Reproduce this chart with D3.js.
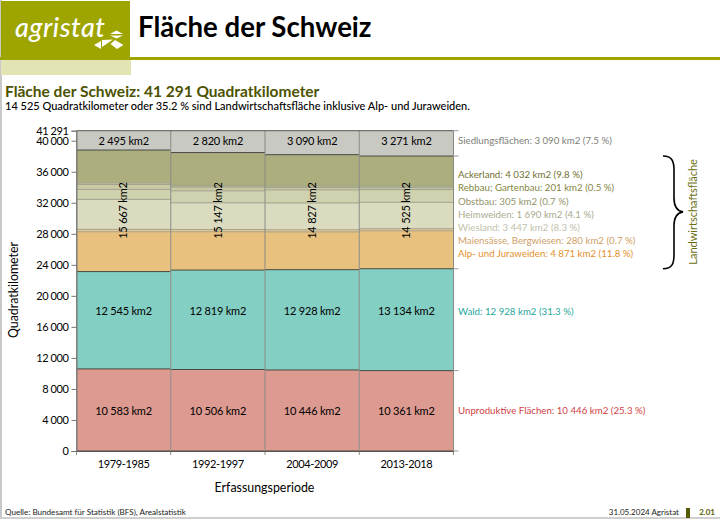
<!DOCTYPE html>
<html lang="de">
<head>
<meta charset="utf-8">
<title>Fläche der Schweiz</title>
<script src="https://cdn.jsdelivr.net/npm/d3@7"></script>
<style>
  html, body { margin: 0; padding: 0; background: #fff; }
  svg { display: block; }
  text { font-family: Lato, "Open Sans", sans-serif; }
</style>
</head>
<body>
<svg id="chart" width="720" height="519"></svg>
<script>
const periods = ['1979-1985', '1992-1997', '2004-2009', '2013-2018'];

const categories = ['unproduktiv', 'wald', 'alp', 'maiensaesse', 'wiesland', 'heimweiden', 'obstbau', 'rebbau', 'ackerland', 'siedlung'];

const unproduktiv = [10583, 10506, 10446, 10361];
const wald = [12545, 12819, 12928, 13134];
const alp = [5140, 4940, 4871, 4895];
const maiensaesse = [300, 290, 280, 270];
const wiesland = [3867, 3440, 3447, 3400];
const heimweiden = [1290, 1550, 1690, 1640];
const obstbau = [640, 470, 305, 250];
const rebbau = [220, 200, 201, 200];
const ackerland = [4210, 4257, 4032, 3870];
const siedlung = [2495, 2820, 3090, 3271];
const landwirtschaft = [15667, 15147, 14827, 14525];

const seriesColors = ['#dc9a90', '#84cfc3', '#e8c17f', '#eac88f', '#dadbbf', '#d0d1ae', '#c9caa5', '#bfc095', '#adae7e', '#c8c9c2'];

const legendLabels = [
  'Siedlungsflächen: 3 090 km2 (7.5 %)',
  'Ackerland: 4 032 km2 (9.8 %)',
  'Rebbau; Gartenbau: 201 km2 (0.5 %)',
  'Obstbau: 305 km2 (0.7 %)',
  'Heimweiden: 1 690 km2 (4.1 %)',
  'Wiesland: 3 447 km2 (8.3 %)',
  'Maiensässe, Bergwiesen: 280 km2 (0.7 %)',
  'Alp- und Juraweiden: 4 871 km2 (11.8 %)',
  'Wald: 12 928 km2 (31.3 %)',
  'Unproduktive Flächen: 10 446 km2 (25.3 %)'
];
const legendColors = ['#7d7e78', '#6f7030', '#85863f', '#93946a', '#a9aa8c', '#c0c1aa', '#d0a066', '#e3902a', '#1fa89a', '#cf3f3f'];
const legendY = [141, 174.5, 188, 201.3, 214.5, 227.5, 240.7, 254, 312, 411];

const yTicks = [0, 4000, 8000, 12000, 16000, 20000, 24000, 28000, 32000, 36000, 40000, 41291];
const total = 41291;

const svg = d3.select('#chart');
const numFmt = d3.formatLocale({ decimal: '.', thousands: ' ', grouping: [3], currency: ['', ''] }).format(',');

// page frame
svg.append('rect').attr('width', 720).attr('height', 519).attr('fill', '#fff');
svg.append('rect').attr('x', 0).attr('y', 0).attr('width', 2).attr('height', 519).attr('fill', '#c8c8c8');
svg.append('rect').attr('x', 0).attr('y', 517).attr('width', 720).attr('height', 2).attr('fill', '#d0d0d0');

// header
svg.append('rect').attr('x', 0).attr('y', 57).attr('width', 720).attr('height', 3).attr('fill', '#9ea400');
svg.append('rect').attr('x', 1).attr('y', 1).attr('width', 129).attr('height', 59).attr('fill', '#9ea400');
svg.append('rect').attr('x', 1).attr('y', 60).attr('width', 130).attr('height', 15).attr('fill', '#e2e5b3');
svg.append('text').attr('x', 15).attr('y', 37).attr('fill', '#fff')
  .attr('font-size', 27).attr('font-style', 'italic').attr('font-weight', 500).attr('letter-spacing', 0.5).text('agristat');

const logo = svg.append('g').attr('fill', '#fff');
['M110,34 L123,34 L116.5,30.5Z', 'M110,35.5 L123,35.5 L116.5,38.5Z', 'M94,45 L101,41 L101,49Z',
  'M102,40 L113,39.5 L105,45 L102,47Z', 'M115,40 L123.5,45 L117,49 L110.5,44Z'].forEach(d => {
  logo.append('path').attr('d', d);
});

svg.append('text').attr('x', 138).attr('y', 37).attr('font-size', 27.6).attr('font-weight', 700)
  .attr('fill', '#000').text('Fläche der Schweiz');
svg.append('text').attr('x', 5).attr('y', 97).attr('font-size', 15.5).attr('font-weight', 700)
  .attr('fill', '#4d5200').text('Fläche der Schweiz: 41 291 Quadratkilometer');
svg.append('text').attr('x', 5).attr('y', 110).attr('font-size', 11).attr('font-weight', 500)
  .attr('fill', '#000').text('14 525 Quadratkilometer oder 35.2 % sind Landwirtschaftsfläche inklusive Alp- und Juraweiden.');

// scales
const x = d3.scaleBand().domain(periods).range([76.5, 453.5]).padding(0);
const y = d3.scaleLinear().domain([0, total]).range([451, 130.7]);

const seriesValues = { unproduktiv, wald, alp, maiensaesse, wiesland, heimweiden, obstbau, rebbau, ackerland, siedlung };
const table = periods.map((p, i) => {
  const row = { period: p };
  categories.forEach(c => { row[c] = seriesValues[c][i]; });
  return row;
});
const stacked = d3.stack().keys(categories)(table);

// bands
const bands = svg.append('g');
stacked.forEach((s, si) => {
  bands.selectAll(null).data(s).join('rect')
    .attr('x', d => x(d.data.period))
    .attr('width', x.bandwidth())
    .attr('y', d => y(d[1]))
    .attr('height', d => y(d[0]) - y(d[1]))
    .attr('fill', seriesColors[si]);
});

// separator lines between the bands, dark between the main groups
stacked.forEach((s, si) => {
  const dark = ['unproduktiv', 'wald', 'alp', 'siedlung'].includes(categories[si]);
  bands.selectAll(null).data(s).join('line')
    .attr('x1', d => x(d.data.period))
    .attr('x2', d => x(d.data.period) + x.bandwidth())
    .attr('y1', d => y(d[0]))
    .attr('y2', d => y(d[0]))
    .attr('stroke', dark ? '#44483f' : '#9a9b88')
    .attr('stroke-width', dark ? 1 : 0.9);
});

// vertical dividers
svg.append('g').selectAll('line').data(periods.concat(['end'])).join('line')
  .attr('x1', d => d === 'end' ? x.range()[1] : x(d))
  .attr('x2', d => d === 'end' ? x.range()[1] : x(d))
  .attr('y1', y(total)).attr('y2', y(0) + 4)
  .attr('stroke', '#8a8a85').attr('stroke-width', 1);
svg.append('line').attr('x1', x.range()[0]).attr('x2', x.range()[1])
  .attr('y1', y(total)).attr('y2', y(total)).attr('stroke', '#55584f');

// axes
const yAxis = svg.append('g').attr('transform', `translate(${x.range()[0]},0)`)
  .call(d3.axisLeft(y).tickValues(yTicks).tickFormat(numFmt).tickSize(5).tickPadding(3));
yAxis.select('.domain').attr('stroke', '#777');
yAxis.selectAll('.tick line').attr('stroke', '#777');
yAxis.selectAll('text').attr('font-size', 11).attr('letter-spacing', -0.4).attr('fill', '#000')
  .style('font-family', 'Lato, sans-serif');

const xAxis = svg.append('g').attr('transform', `translate(0,${y(0)})`)
  .call(d3.axisBottom(x).tickSize(0).tickPadding(9));
xAxis.select('.domain').attr('stroke', '#555');
xAxis.selectAll('text').attr('font-size', 11).attr('letter-spacing', -0.4).attr('fill', '#000')
  .style('font-family', 'Lato, sans-serif');

// right side ticks at the boundaries of the last column
const last = table[table.length - 1];
const rightTicks = [0, last.unproduktiv, last.unproduktiv + last.wald, total - last.siedlung, total];
svg.append('g').selectAll('line').data(rightTicks).join('line')
  .attr('x1', x.range()[1]).attr('x2', x.range()[1] + 5)
  .attr('y1', d => y(d)).attr('y2', d => y(d))
  .attr('stroke', '#999');

// value labels
function kmLabel(values, level) {
  svg.append('g').selectAll('text').data(values).join('text')
    .attr('x', (d, i) => x(periods[i]) + x.bandwidth() / 2)
    .attr('y', y(level))
    .attr('dy', '0.35em')
    .attr('text-anchor', 'middle')
    .attr('font-size', 11).attr('letter-spacing', -0.2).attr('fill', '#000')
    .text(d => numFmt(d) + ' km2');
}
kmLabel(siedlung, 40000);
kmLabel(wald, 18000);
kmLabel(unproduktiv, 5200);

svg.append('g').selectAll('text').data(landwirtschaft).join('text')
  .attr('transform', (d, i) => `translate(${x(periods[i]) + x.bandwidth() / 2},${y(31000)}) rotate(-90)`)
  .attr('dy', '0.35em')
  .attr('text-anchor', 'middle')
  .attr('font-size', 11).attr('letter-spacing', -0.2).attr('fill', '#000')
  .text(d => numFmt(d) + ' km2');

// legend on the right
svg.append('g').selectAll('text').data(legendLabels).join('text')
  .attr('x', 458)
  .attr('y', (d, i) => legendY[i])
  .attr('dy', '0.35em')
  .attr('font-size', 9.7)
  .attr('fill', (d, i) => legendColors[i])
  .text(d => d);

// brace for Landwirtschaftsfläche
const bT = y(total - last.siedlung), bB = y(last.unproduktiv + last.wald), bM = (bT + bB) / 2 - 0.5;
svg.append('path')
  .attr('d', `M663,${bT} C672,${bT} 674,${bT + 5} 674,${bT + 14} L674,${bM - 14} C674,${bM - 5} 677,${bM - 1} 683,${bM}
    C677,${bM + 1} 674,${bM + 5} 674,${bM + 14} L674,${bB - 14} C674,${bB - 5} 672,${bB} 663,${bB}`)
  .attr('fill', 'none').attr('stroke', '#000').attr('stroke-width', 1.6);
svg.append('text')
  .attr('transform', `translate(693,${bM}) rotate(-90)`)
  .attr('dy', '0.35em').attr('text-anchor', 'middle')
  .attr('font-size', 11).attr('fill', '#6b6e10').text('Landwirtschaftsfläche');

// axis titles
svg.append('text').attr('transform', 'translate(14,290) rotate(-90)')
  .attr('dy', '0.35em').attr('text-anchor', 'middle')
  .attr('font-size', 12.4).attr('fill', '#000').text('Quadratkilometer');
svg.append('text').attr('x', 264.5).attr('y', 492).attr('text-anchor', 'middle')
  .attr('font-size', 12.4).attr('fill', '#000').text('Erfassungsperiode');

// footer
svg.append('text').attr('x', 5).attr('y', 515).attr('font-size', 8.1).attr('fill', '#222')
  .text('Quelle: Bundesamt für Statistik (BFS), Arealstatistik');
svg.append('text').attr('x', 679).attr('y', 515).attr('text-anchor', 'end').attr('font-size', 8).attr('fill', '#222')
  .text('31.05.2024 Agristat');
svg.append('rect').attr('x', 686).attr('y', 508).attr('width', 4).attr('height', 10).attr('fill', '#555a00');
svg.append('text').attr('x', 715).attr('y', 515).attr('text-anchor', 'end').attr('font-size', 8)
  .attr('font-weight', 700).attr('fill', '#555a00').text('2.01');
</script>
</body>
</html>
